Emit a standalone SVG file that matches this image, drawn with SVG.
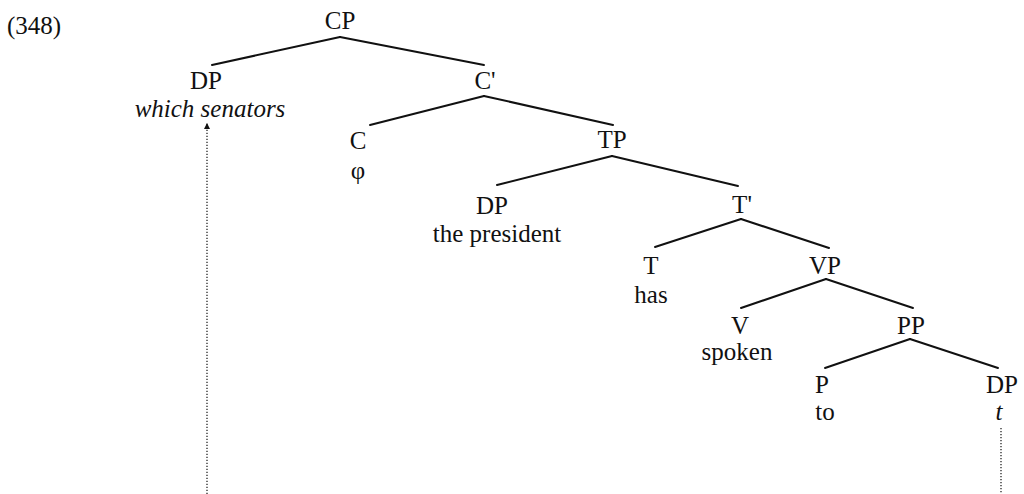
<svg xmlns="http://www.w3.org/2000/svg" width="1024" height="494" viewBox="0 0 1024 494">
<style>
text{font-family:"Liberation Serif","Times New Roman",serif;font-size:25px;fill:#111;text-anchor:middle}
.it{font-style:italic}
.br{stroke:#111;stroke-width:2;fill:none;stroke-linecap:round}
.dot{stroke:#111;stroke-width:1.2;fill:none;stroke-dasharray:1.2 1.8}
</style>
<defs>
<marker id="ah" viewBox="0 0 10 10" refX="10" refY="5" markerWidth="6" markerHeight="7" markerUnits="userSpaceOnUse" orient="auto">
<path d="M0,0 L10,5 L0,10 z" fill="#111"/>
</marker>
</defs>
<text x="7" y="34" style="text-anchor:start">(348)</text>
<g id="connectors">
<line class="br" x1="340" y1="37" x2="212" y2="65"/>
<line class="br" x1="340" y1="37" x2="484" y2="65"/>
<line class="br" x1="484" y1="96" x2="370" y2="125"/>
<line class="br" x1="484" y1="96" x2="613" y2="125"/>
<line class="br" x1="612" y1="156" x2="497" y2="185"/>
<line class="br" x1="612" y1="156" x2="738" y2="186"/>
<line class="br" x1="741" y1="219" x2="655" y2="247"/>
<line class="br" x1="741" y1="219" x2="829" y2="248"/>
<line class="br" x1="826" y1="279" x2="741" y2="308"/>
<line class="br" x1="826" y1="279" x2="913" y2="308"/>
<line class="br" x1="910" y1="339" x2="825" y2="368"/>
<line class="br" x1="910" y1="339" x2="998" y2="368"/>
<line class="dot" x1="207" y1="494" x2="207" y2="123" marker-end="url(#ah)"/>
<line class="dot" x1="1001" y1="428" x2="1001" y2="494"/>
</g>
<g id="n-cp"><text x="340" y="29">CP</text></g>
<g id="n-dp1"><text x="206" y="89">DP</text><text class="it" x="210" y="117">which senators</text></g>
<g id="n-cbar"><text x="485" y="89">C'</text></g>
<g id="n-c"><text x="358" y="149">C</text><text x="358" y="179">φ</text></g>
<g id="n-tp"><text x="612" y="148">TP</text></g>
<g id="n-dp2"><text x="492" y="214">DP</text><text x="497" y="242">the president</text></g>
<g id="n-tbar"><text x="742" y="213">T'</text></g>
<g id="n-t"><text x="651" y="274">T</text><text x="651" y="303">has</text></g>
<g id="n-vp"><text x="825" y="274">VP</text></g>
<g id="n-v"><text x="740" y="334">V</text><text x="737" y="360">spoken</text></g>
<g id="n-pp"><text x="911" y="334">PP</text></g>
<g id="n-p"><text x="822" y="393">P</text><text x="825" y="420">to</text></g>
<g id="n-dp3"><text x="1002" y="393">DP</text><text class="it" x="999" y="420">t</text></g>
</svg>
